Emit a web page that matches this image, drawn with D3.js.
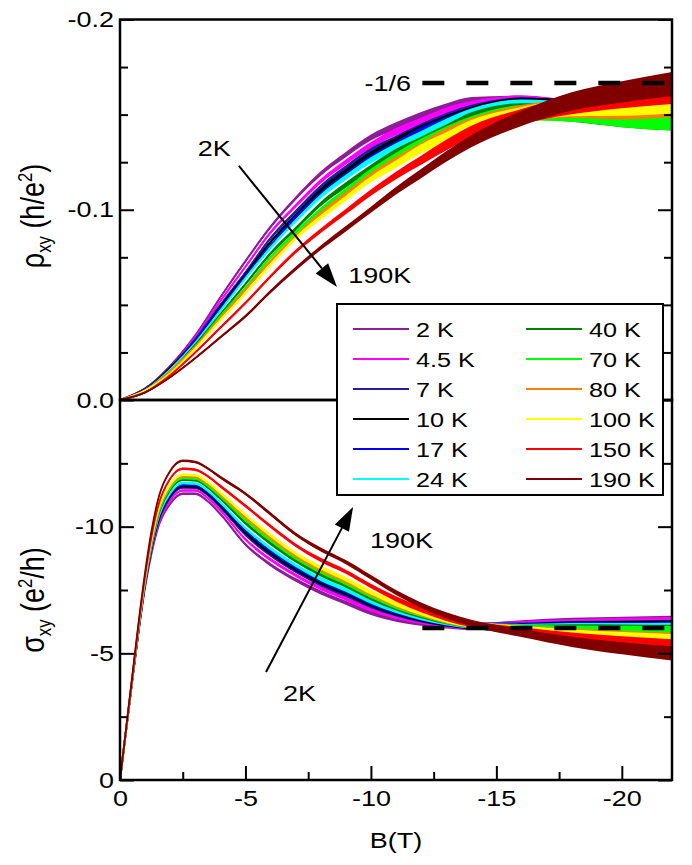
<!DOCTYPE html>
<html>
<head>
<meta charset="utf-8">
<script src="https://cdn.jsdelivr.net/npm/d3@7"></script>
<style>
  html, body { margin: 0; padding: 0; background: #fff; }
  svg { display: block; }
  text { font-family: "Liberation Sans", Arial, Helvetica, sans-serif; fill: #000; }
</style>
</head>
<body>
<svg id="chart" width="692" height="865"></svg>
<script>
// ---------- data ----------
const temps  = ["2 K", "4.5 K", "7 K", "10 K", "17 K", "24 K", "40 K", "70 K", "80 K", "100 K", "150 K", "190 K"];
const colors = ["#8e1e96", "#ff00ff", "#1f1f9f", "#000000", "#0000ff", "#00ffff",
                "#008000", "#00ff00", "#ff8000", "#ffff00", "#ff0000", "#800000"];

// Hall resistivity rho_xy (h/e^2) vs field B (T)
const fieldRho = [0, -1, -2, -3, -4, -5, -6, -7, -8, -9, -10, -11, -12, -13, -14, -16, -18, -20, -22];
const rho2K   = [0, -.006, -.018, -.034, -.054, -.073, -.091, -.106, -.119, -.129, -.138, -.144, -.149, -.153, -.156, -.156, -.153, -.151, -.151];
const rho4_5K = [0, -.006, -.017, -.033, -.052, -.070, -.088, -.102, -.115, -.125, -.134, -.141, -.146, -.151, -.154, -.156, -.153, -.152, -.152];
const rho7K   = [0, -.006, -.017, -.032, -.050, -.067, -.085, -.099, -.112, -.122, -.131, -.137, -.143, -.148, -.152, -.155, -.153, -.151, -.151];
const rho10K  = [0, -.005, -.017, -.031, -.049, -.066, -.083, -.097, -.110, -.120, -.129, -.136, -.142, -.147, -.151, -.155, -.153, -.151, -.151];
const rho17K  = [0, -.005, -.016, -.031, -.048, -.065, -.081, -.096, -.108, -.118, -.127, -.134, -.141, -.146, -.150, -.154, -.152, -.150, -.150];
const rho24K  = [0, -.005, -.016, -.030, -.047, -.064, -.080, -.094, -.107, -.117, -.126, -.133, -.139, -.145, -.150, -.154, -.152, -.150, -.150];
const rho40K  = [0, -.005, -.015, -.029, -.045, -.061, -.077, -.090, -.103, -.113, -.122, -.130, -.136, -.142, -.148, -.152, -.151, -.149, -.148];
const rho70K  = [0, -.005, -.015, -.028, -.044, -.059, -.075, -.088, -.100, -.110, -.120, -.128, -.135, -.141, -.146, -.151, -.151, -.149, -.148];
const rho80K  = [0, -.005, -.015, -.028, -.043, -.058, -.073, -.086, -.098, -.108, -.118, -.126, -.133, -.140, -.145, -.151, -.153, -.153, -.155];
const rho100K = [0, -.005, -.014, -.027, -.042, -.056, -.071, -.085, -.096, -.106, -.116, -.124, -.132, -.138, -.144, -.150, -.154, -.155, -.157];
const rho150K = [0, -.004, -.013, -.025, -.038, -.051, -.065, -.078, -.089, -.099, -.109, -.118, -.126, -.134, -.141, -.149, -.155, -.159, -.162];
const rho190K = [0, -.004, -.012, -.022, -.033, -.044, -.057, -.069, -.080, -.090, -.100, -.110, -.119, -.128, -.136, -.148, -.157, -.162, -.166];
// measurement scatter (half-width) of rho_xy along the field sweep
const noiseRho = [0, .0004, .0005, .0006, .0007, .0008, .0009, .001, .0012, .0014, .0016, .002, .0024, .0028, .0032, .004, .0048, .0056, .0064];

// Hall conductivity sigma_xy (e^2/h) vs field B (T)
const fieldSigma = [0, -.25, -.5, -.75, -1, -1.25, -1.5, -2, -2.5, -3, -3.5, -4, -5, -6, -7, -8, -9, -10, -11, -12, -13, -14, -16, -18, -20, -22];
const sig2K   = [0, -2.00, -4.00, -5.90, -7.60, -8.90, -9.90, -10.90, -11.30, -11.30, -11.00, -10.50, -9.30, -8.50, -7.90, -7.40, -7.00, -6.60, -6.35, -6.20, -6.10, -6.05, -6.15, -6.20, -6.20, -6.20];
const sig4_5K = [0, -2.01, -4.02, -5.94, -7.66, -8.99, -10.01, -11.03, -11.43, -11.43, -11.13, -10.65, -9.50, -8.70, -8.08, -7.57, -7.16, -6.74, -6.46, -6.27, -6.14, -6.07, -6.12, -6.15, -6.15, -6.15];
const sig7K   = [0, -2.02, -4.04, -5.98, -7.71, -9.07, -10.11, -11.15, -11.55, -11.54, -11.25, -10.78, -9.68, -8.88, -8.24, -7.72, -7.30, -6.87, -6.55, -6.33, -6.18, -6.08, -6.06, -6.08, -6.06, -6.04];
const sig10K  = [0, -2.02, -4.05, -5.99, -7.74, -9.11, -10.15, -11.20, -11.60, -11.59, -11.30, -10.83, -9.76, -8.96, -8.31, -7.79, -7.37, -6.92, -6.59, -6.36, -6.19, -6.08, -6.03, -6.06, -6.04, -6.02];
const sig17K  = [0, -2.03, -4.06, -6.01, -7.77, -9.15, -10.21, -11.26, -11.66, -11.65, -11.36, -10.91, -9.86, -9.06, -8.40, -7.88, -7.45, -6.99, -6.64, -6.40, -6.21, -6.09, -6.02, -6.03, -6.00, -5.97];
const sig24K  = [0, -2.03, -4.06, -6.03, -7.79, -9.19, -10.25, -11.32, -11.72, -11.70, -11.42, -10.96, -9.94, -9.14, -8.48, -7.94, -7.51, -7.05, -6.69, -6.42, -6.23, -6.10, -6.00, -6.00, -5.96, -5.93];
const sig40K  = [0, -2.04, -4.08, -6.07, -7.85, -9.28, -10.36, -11.45, -11.85, -11.83, -11.55, -11.11, -10.14, -9.34, -8.66, -8.11, -7.67, -7.19, -6.79, -6.49, -6.27, -6.11, -5.97, -5.95, -5.90, -5.85];
const sig70K  = [0, -2.05, -4.10, -6.09, -7.89, -9.33, -10.43, -11.52, -11.92, -11.90, -11.62, -11.20, -10.26, -9.46, -8.76, -8.22, -7.77, -7.27, -6.85, -6.54, -6.29, -6.12, -5.96, -5.90, -5.85, -5.80];
const sig80K  = [0, -2.05, -4.11, -6.11, -7.92, -9.38, -10.48, -11.59, -11.99, -11.96, -11.69, -11.27, -10.36, -9.56, -8.85, -8.30, -7.85, -7.34, -6.91, -6.57, -6.31, -6.13, -5.94, -5.78, -5.65, -5.54];
const sig100K = [0, -2.06, -4.12, -6.13, -7.95, -9.42, -10.54, -11.65, -12.05, -12.03, -11.75, -11.34, -10.46, -9.66, -8.94, -8.39, -7.93, -7.41, -6.96, -6.61, -6.33, -6.14, -5.93, -5.74, -5.60, -5.48];
const sig150K = [0, -2.08, -4.15, -6.20, -8.06, -9.58, -10.74, -11.89, -12.29, -12.25, -11.99, -11.60, -10.82, -10.02, -9.27, -8.69, -8.22, -7.66, -7.15, -6.73, -6.40, -6.16, -5.87, -5.62, -5.43, -5.28];
const sig190K = [0, -2.10, -4.20, -6.30, -8.20, -9.80, -11.00, -12.20, -12.60, -12.55, -12.30, -11.95, -11.30, -10.50, -9.70, -9.10, -8.60, -8.00, -7.40, -6.90, -6.50, -6.20, -5.80, -5.45, -5.20, -5.00];
const noiseSigma = [0, .04, .05, .05, .05, .05, .05, .05, .05, .05, .05, .06, .06, .07, .07, .08, .08, .09, .10, .11, .12, .13, .16, .20, .24, .28];

const rhoSeries   = [rho2K, rho4_5K, rho7K, rho10K, rho17K, rho24K, rho40K, rho70K, rho80K, rho100K, rho150K, rho190K];
const sigmaSeries = [sig2K, sig4_5K, sig7K, sig10K, sig17K, sig24K, sig40K, sig70K, sig80K, sig100K, sig150K, sig190K];

// axis ticks
const fieldTicks      = [0, -5, -10, -15, -20];
const fieldMinorTicks = [-2.5, -7.5, -12.5, -17.5];
const rhoTicks        = [0, -0.1, -0.2];
const rhoMinorTicks   = [-0.025, -0.05, -0.075, -0.125, -0.15, -0.175];
const sigmaTicks      = [0, -5, -10];
const sigmaMinorTicks = [-2.5, -7.5, -12.5];

// quantised plateau values
const rhoPlateau   = -1 / 6;
const sigmaPlateau = -6;

// ---------- layout ----------
const L = 120, R = 672, T = 19.5, M = 400, Bt = 780;
const FS = 22.5, FS_LEG = 21, FS_TITLE = 27;
const SX = 1.2;                    // horizontal glyph stretch
const MAJ = 14, MIN = 8;           // tick lengths

const svg = d3.select("#chart");
const x    = d3.scaleLinear().domain([0, -22]).range([L, R]);
const yRho = d3.scaleLinear().domain([0, -0.2]).range([M, T]);
const ySig = d3.scaleLinear().domain([0, -15]).range([Bt, M]);

const defs = svg.append("defs");
defs.append("clipPath").attr("id", "clipTop").append("rect")
  .attr("x", L).attr("y", T).attr("width", R - L).attr("height", M - T);
defs.append("clipPath").attr("id", "clipBot").append("rect")
  .attr("x", L).attr("y", M).attr("width", R - L).attr("height", Bt - M);

function stretch(sel) {
  sel.each(function () {
    const t = d3.select(this);
    const tx = +t.attr("x") || 0, ty = +t.attr("y") || 0;
    t.attr("x", 0).attr("y", 0).attr("transform", `translate(${tx},${ty}) scale(${SX},1)`);
  });
}

// ---------- curves ----------
function drawCurves(clipId, field, series, noise, y) {
  const g = svg.append("g").attr("clip-path", `url(#${clipId})`);
  series.forEach((vals, i) => {
    const pts = field.map((b, k) => ({ b, v: vals[k], n: noise[k] }));
    const area = d3.area().curve(d3.curveMonotoneX)
      .x(d => x(d.b)).y0(d => y(d.v - d.n)).y1(d => y(d.v + d.n));
    const line = d3.line().curve(d3.curveMonotoneX)
      .x(d => x(d.b)).y(d => y(d.v));
    g.append("path").datum(pts).attr("d", area).attr("fill", colors[i]).attr("stroke", "none");
    g.append("path").datum(pts).attr("d", line).attr("fill", "none")
      .attr("stroke", colors[i]).attr("stroke-width", 1.8).attr("stroke-linejoin", "round");
  });
  return g;
}

drawCurves("clipTop", fieldRho, rhoSeries, noiseRho, yRho);
drawCurves("clipBot", fieldSigma, sigmaSeries, noiseSigma, ySig);

// plateau guides
svg.append("line")
  .attr("x1", x(-12.05)).attr("x2", x(-22)).attr("y1", yRho(rhoPlateau)).attr("y2", yRho(rhoPlateau))
  .attr("stroke", "#000").attr("stroke-width", 4.5).attr("stroke-dasharray", "22,22");
svg.append("line")
  .attr("x1", x(-12.05)).attr("x2", x(-22)).attr("y1", ySig(sigmaPlateau)).attr("y2", ySig(sigmaPlateau))
  .attr("stroke", "#000").attr("stroke-width", 4.5).attr("stroke-dasharray", "22,22");

const plateauLabel = svg.append("text")
  .attr("x", x(-11.6)).attr("y", yRho(rhoPlateau)).attr("dy", "0.36em")
  .attr("text-anchor", "end").attr("font-size", FS).text("-1/6");
stretch(plateauLabel);

// ---------- axes ----------
function tickGroup(axis, tx, ty, len) {
  const g = svg.append("g").attr("transform", `translate(${tx},${ty})`)
    .call(axis.tickSizeInner(-len).tickSizeOuter(0));
  g.select(".domain").remove();
  g.selectAll(".tick line").attr("stroke", "#000").attr("stroke-width", 2);
  g.attr("font-size", FS).attr("font-family", null);
  return g;
}
const noLabel = () => "";

// top panel
tickGroup(d3.axisLeft(yRho).tickValues(rhoMinorTicks).tickFormat(noLabel), L, 0, MIN);
const gRhoL = tickGroup(d3.axisLeft(yRho).tickValues(rhoTicks).tickFormat(d => d.toFixed(1)).tickPadding(6), L, 0, MAJ);
tickGroup(d3.axisRight(yRho).tickValues(rhoMinorTicks).tickFormat(noLabel), R, 0, MIN);
tickGroup(d3.axisRight(yRho).tickValues(rhoTicks).tickFormat(noLabel), R, 0, MAJ);

// bottom panel
tickGroup(d3.axisLeft(ySig).tickValues(sigmaMinorTicks).tickFormat(noLabel), L, 0, MIN);
const gSigL = tickGroup(d3.axisLeft(ySig).tickValues(sigmaTicks).tickFormat(d => String(d)).tickPadding(6), L, 0, MAJ);
tickGroup(d3.axisRight(ySig).tickValues(sigmaMinorTicks).tickFormat(noLabel), R, 0, MIN);
tickGroup(d3.axisRight(ySig).tickValues(sigmaTicks).tickFormat(noLabel), R, 0, MAJ);

tickGroup(d3.axisBottom(x).tickValues(fieldMinorTicks).tickFormat(noLabel), 0, Bt, MIN);
const gX = tickGroup(d3.axisBottom(x).tickValues(fieldTicks).tickFormat(d => String(d)).tickPadding(10), 0, Bt, MAJ);

[gRhoL, gSigL, gX].forEach(g => stretch(g.selectAll(".tick text").attr("fill", "#000")));

// frames
svg.append("rect").attr("x", L).attr("y", T).attr("width", R - L).attr("height", M - T)
  .attr("fill", "none").attr("stroke", "#000").attr("stroke-width", 2.5);
svg.append("rect").attr("x", L).attr("y", M).attr("width", R - L).attr("height", Bt - M)
  .attr("fill", "none").attr("stroke", "#000").attr("stroke-width", 2.5);

// axis titles
function yTitle(cx, cy, sym, unitA, unitB) {
  const t = svg.append("text")
    .attr("transform", `translate(${cx},${cy}) scale(${SX},1) rotate(-90)`)
    .attr("text-anchor", "middle").attr("font-size", FS_TITLE);
  t.append("tspan").text(sym);
  t.append("tspan").attr("font-size", FS_TITLE * 0.62).attr("dy", 6).text("xy");
  t.append("tspan").attr("dy", -6).text(" (" + unitA);
  t.append("tspan").attr("font-size", FS_TITLE * 0.62).attr("dy", -10).text("2");
  t.append("tspan").attr("dy", 10).text(unitB + ")");
}
yTitle(44, 216, "ρ", "h/e", "");
yTitle(44, 600, "σ", "e", "/h");

const xTitle = svg.append("text").attr("x", (L + R) / 2).attr("y", 848)
  .attr("text-anchor", "middle").attr("font-size", FS).text("B(T)");
stretch(xTitle);

// ---------- temperature arrows ----------
function arrow(x1, y1, x2, y2) {
  const ang = Math.atan2(y2 - y1, x2 - x1), len = 24, hw = 8;
  const bx = x2 - len * Math.cos(ang), by = y2 - len * Math.sin(ang);
  svg.append("line").attr("x1", x1).attr("y1", y1).attr("x2", bx).attr("y2", by)
    .attr("stroke", "#000").attr("stroke-width", 2);
  const px = -Math.sin(ang) * hw, py = Math.cos(ang) * hw;
  svg.append("polygon")
    .attr("points", `${x2},${y2} ${bx + px},${by + py} ${bx - px},${by - py}`)
    .attr("fill", "#000");
}
function label(txt, xp, yp) {
  const t = svg.append("text").attr("x", xp).attr("y", yp).attr("font-size", FS).text(txt);
  stretch(t);
}

arrow(x(-4.74), yRho(-0.123), x(-8.65), yRho(-0.0594));
label("2K", x(-3.1), yRho(-0.128));
label("190K", x(-9.1), yRho(-0.0615));

arrow(x(-5.82), ySig(-4.26), x(-9.29), ySig(-10.78));
label("190K", x(-9.96), ySig(-9.16));
label("2K", x(-6.5), ySig(-3.12));

// ---------- legend ----------
const lg = svg.append("g");
lg.append("rect").attr("x", 337).attr("y", 304).attr("width", 326).attr("height", 191)
  .attr("fill", "#fff").attr("stroke", "#000").attr("stroke-width", 2);
temps.forEach((t, i) => {
  const col = Math.floor(i / 6), row = i % 6;
  const x0 = col === 0 ? 353 : 526, yy = 329 + row * 30;
  lg.append("line").attr("x1", x0).attr("x2", x0 + 56).attr("y1", yy).attr("y2", yy)
    .attr("stroke", colors[i]).attr("stroke-width", 2);
  const tx = lg.append("text").attr("x", x0 + 63).attr("y", yy).attr("dy", "0.36em")
    .attr("font-size", FS_LEG).text(t);
  stretch(tx);
});
</script>
</body>
</html>
